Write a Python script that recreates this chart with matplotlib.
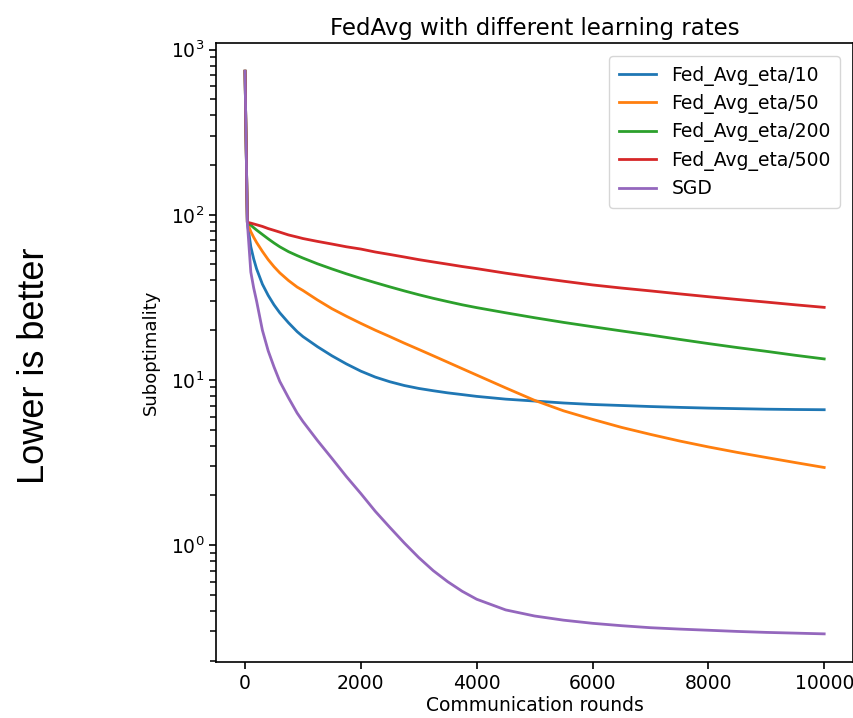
import matplotlib
matplotlib.use("Agg")
import matplotlib.pyplot as plt
from matplotlib.ticker import LogLocator, NullFormatter

rounds = [0, 40, 100, 150, 200, 300, 400, 500, 600, 750, 900, 1000, 1250,
          1500, 1750, 2000, 2250, 2500, 2750, 3000, 3250, 3500, 3750, 4000,
          4500, 5000, 5500, 6000, 6500, 7000, 7500, 8000, 8500, 9000, 9500, 10000]

fedavg_eta10 = [740, 90, 64, 54, 47, 38, 32.5, 28.5, 25.5, 22.2, 19.6, 18.3, 15.9,
                14.0, 12.5, 11.3, 10.4, 9.75, 9.25, 8.88, 8.6, 8.35, 8.15, 7.95,
                7.65, 7.45, 7.25, 7.1, 7.0, 6.9, 6.82, 6.75, 6.7, 6.65, 6.62, 6.6]
fedavg_eta50 = [740, 90, 79, 73, 68, 60, 53.5, 48.5, 44.5, 40, 36.5, 34.8, 30.5,
                27, 24.3, 22, 20, 18.3, 16.7, 15.3, 14.0, 12.8, 11.7, 10.7,
                8.95, 7.52, 6.5, 5.77, 5.16, 4.68, 4.27, 3.93, 3.64, 3.39, 3.16, 2.95]
fedavg_eta200 = [740, 90, 86.5, 83.5, 80.8, 76, 71.5, 67.5, 64, 59.8, 56.6, 54.7, 50.5,
                 47, 43.9, 41.2, 38.8, 36.6, 34.6, 32.8, 31.2, 29.8, 28.5, 27.4,
                 25.5, 23.8, 22.3, 21, 19.8, 18.7, 17.6, 16.6, 15.7, 14.9, 14.1, 13.4]
fedavg_eta500 = [740, 90, 89, 88, 87, 85, 82.5, 80.5, 78.5, 75.5, 73.3, 71.8, 69,
                 66.5, 64, 62, 59.5, 57.5, 55.5, 53.5, 51.8, 50.2, 48.6, 47.2,
                 44.3, 41.8, 39.6, 37.6, 36, 34.6, 33.2, 31.9, 30.7, 29.6, 28.5, 27.5]
sgd = [740, 90, 45, 36, 30, 20, 15, 12, 9.8, 7.8, 6.3, 5.6, 4.3,
       3.35, 2.6, 2.05, 1.6, 1.28, 1.03, 0.84, 0.70, 0.60, 0.525, 0.47,
       0.405, 0.372, 0.351, 0.336, 0.325, 0.316, 0.31, 0.305, 0.3, 0.296, 0.293, 0.29]

series = [
    ("Fed_Avg_eta/10", fedavg_eta10),
    ("Fed_Avg_eta/50", fedavg_eta50),
    ("Fed_Avg_eta/200", fedavg_eta200),
    ("Fed_Avg_eta/500", fedavg_eta500),
    ("SGD", sgd),
]

title = "FedAvg with different learning rates"
xlabel = "Communication rounds"
ylabel = "Suboptimality"
side_text = "Lower is better"
xticks = [0, 2000, 4000, 6000, 8000, 10000]

fig = plt.figure(figsize=(8.54, 7.18), dpi=100)
ax = fig.add_axes([0.253, 0.078, 0.746, 0.862])

for label, vals in series:
    ax.plot(rounds, vals, label=label, linewidth=2.0)

ax.set_yscale("log")
ax.yaxis.set_minor_locator(LogLocator(base=10, subs=(2, 3, 4, 5, 6, 7, 8, 9), numticks=20))
ax.yaxis.set_minor_formatter(NullFormatter())
ax.set_xticks(xticks)
ax.tick_params(labelsize=13.5, length=5, width=1.2)
ax.tick_params(axis="y", which="minor", length=4, width=1.1, left=True)
for s in ax.spines.values():
    s.set_linewidth(1.2)
ax.set_title(title, fontsize=16.5, pad=6)
ax.set_xlabel(xlabel, fontsize=13.5, labelpad=2)
ax.set_ylabel(ylabel, fontsize=13, labelpad=8)
ax.legend(loc="upper right", fontsize=13.5, handlelength=2.0, borderpad=0.5,
          labelspacing=0.45, borderaxespad=0.7)

fig.text(0.04, 0.49, side_text, rotation=90, fontsize=26,
         family="Liberation Sans", ha="center", va="center")

fig.savefig("out.png", dpi=100)
